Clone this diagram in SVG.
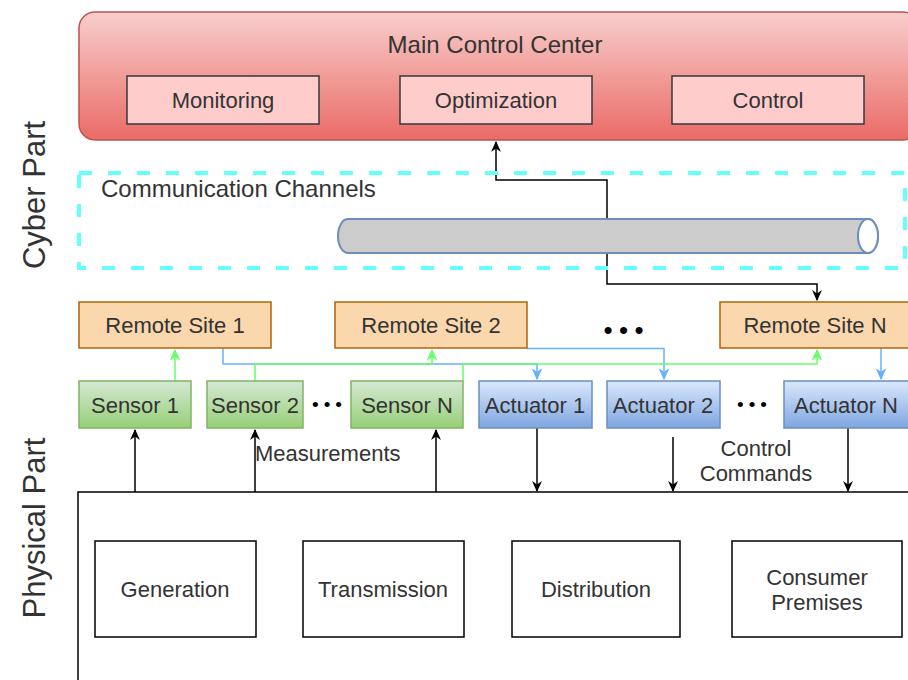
<svg xmlns="http://www.w3.org/2000/svg" width="908" height="680" viewBox="0 0 908 680">
<defs>
<linearGradient id="gRed" x1="0" y1="0" x2="0" y2="1"><stop offset="0" stop-color="#f8cecc"/><stop offset="1" stop-color="#ea6b66"/></linearGradient>
<linearGradient id="gGreen" x1="0" y1="0" x2="0" y2="1"><stop offset="0" stop-color="#d5e8d4"/><stop offset="1" stop-color="#97d077"/></linearGradient>
<linearGradient id="gBlue" x1="0" y1="0" x2="0" y2="1"><stop offset="0" stop-color="#dae8fc"/><stop offset="1" stop-color="#7ea6e0"/></linearGradient>
<marker id="aBlack" viewBox="0 0 10 10" refX="9" refY="5" markerWidth="11" markerHeight="11" markerUnits="userSpaceOnUse" orient="auto"><path d="M0,0.5 L10,5 L0,9.5 L3,5 Z" fill="#000"/></marker>
<marker id="aGreen" viewBox="0 0 10 10" refX="9" refY="5" markerWidth="12" markerHeight="12" markerUnits="userSpaceOnUse" orient="auto"><path d="M0,0.5 L10,5 L0,9.5 L3,5 Z" fill="#66ff66"/></marker>
<marker id="aBlue" viewBox="0 0 10 10" refX="9" refY="5" markerWidth="12" markerHeight="12" markerUnits="userSpaceOnUse" orient="auto"><path d="M0,0.5 L10,5 L0,9.5 L3,5 Z" fill="#66b2ff"/></marker>
</defs>
<style>
text{font-family:"Liberation Sans",Arial,sans-serif;fill:#333;font-size:22px}
.c{text-anchor:middle}
.big{font-size:24px}
.inner{fill:#ffcccc;stroke:#36393d;stroke-width:1.5}
.rs{fill:#fad7ac;stroke:#b46504;stroke-width:1.5}
.sen{fill:url(#gGreen);stroke:#82b366;stroke-width:1.5}
.act{fill:url(#gBlue);stroke:#6c8ebf;stroke-width:1.5}
.phys{fill:#fff;stroke:#000;stroke-width:1.5}
.blk{fill:none;stroke:#000;stroke-width:1.5}
.grn{fill:none;stroke:#66ff66;stroke-width:1.5}
.blu{fill:none;stroke:#66b2ff;stroke-width:1.5}
.side{font-size:31px;text-anchor:middle}
.dots{fill:#000}
.dl{font-size:26px;letter-spacing:6.4px}
.ds{font-size:19px;letter-spacing:5px}
</style>
<text class="side" transform="translate(45,195) rotate(-90)">Cyber Part</text>
<text class="side" transform="translate(45,528) rotate(-90)">Physical Part</text>
<g id="physical">
<rect x="78" y="492" width="840" height="200" fill="#fff" stroke="#000" stroke-width="1.5"/>
</g>
<g id="generation"><rect class="phys" x="95" y="541" width="161" height="96"/><text class="c" x="175" y="597">Generation</text></g>
<g id="transmission"><rect class="phys" x="303" y="541" width="161" height="96"/><text class="c" x="383" y="597">Transmission</text></g>
<g id="distribution"><rect class="phys" x="512" y="541" width="168" height="96"/><text class="c" x="596" y="597">Distribution</text></g>
<g id="consumer"><rect class="phys" x="732" y="541" width="170" height="96"/><text class="c" x="817" y="585">Consumer</text><text class="c" x="817" y="610">Premises</text></g>
<g id="connectors">
<path class="blk" d="M607,236 V180 H496 V142" marker-end="url(#aBlack)"/>
<path class="blk" d="M607,236 V284 H817 V300" marker-end="url(#aBlack)"/>
<path class="blu" d="M223,348 V364 H537 V379" marker-end="url(#aBlue)"/>
<path class="blu" d="M527,348.5 H664 V379" marker-end="url(#aBlue)"/>
<path class="blu" d="M881,348 V379" marker-end="url(#aBlue)"/>
<path class="grn" d="M175,381 V350" marker-end="url(#aGreen)"/>
<path class="grn" d="M255,381 V364 H432 V350" marker-end="url(#aGreen)"/>
<path class="grn" d="M463,381 V364 H817 V350" marker-end="url(#aGreen)"/>
<path class="blk" d="M135,492 V430" marker-end="url(#aBlack)"/>
<path class="blk" d="M255,492 V430" marker-end="url(#aBlack)"/>
<path class="blk" d="M436,492 V430" marker-end="url(#aBlack)"/>
<path class="blk" d="M537,428 V491" marker-end="url(#aBlack)"/>
<path class="blk" d="M673,437 V491" marker-end="url(#aBlack)"/>
<path class="blk" d="M848,428 V491" marker-end="url(#aBlack)"/>
<text x="255" y="461">Measurements</text>
<text class="c" x="756" y="456">Control</text>
<text class="c" x="756" y="481">Commands</text>
</g>
<g id="main-control-center">
<rect x="79" y="12" width="840" height="128" rx="16" fill="url(#gRed)" stroke="#b85450" stroke-width="1.5"/>
<text class="c big" x="495" y="53">Main Control Center</text>
</g>
<g id="monitoring"><rect class="inner" x="127" y="76" width="192" height="48"/><text class="c" x="223" y="108">Monitoring</text></g>
<g id="optimization"><rect class="inner" x="400" y="76" width="192" height="48"/><text class="c" x="496" y="108">Optimization</text></g>
<g id="control"><rect class="inner" x="672" y="76" width="192" height="48"/><text class="c" x="768" y="108">Control</text></g>
<g id="communication-channels">
<rect x="79" y="173" width="826" height="95" fill="none" stroke="#66ffff" stroke-width="4" stroke-dasharray="13 16"/>
<text class="big" x="101" y="197">Communication Channels</text>
</g>
<g id="pipe">
<path d="M348,219 H868 A10,17 0 0 1 868,253 H348 A10,17 0 0 1 348,219 Z" fill="#cccccc" stroke="#6c8ebf" stroke-width="2"/>
<ellipse cx="868" cy="236" rx="10" ry="17" fill="#fff" stroke="#6c8ebf" stroke-width="2"/>
</g>
<g id="remote-site-1"><rect class="rs" x="79" y="302" width="192" height="46"/><text class="c" x="175" y="333">Remote Site 1</text></g>
<g id="remote-site-2"><rect class="rs" x="335" y="302" width="192" height="46"/><text class="c" x="431" y="333">Remote Site 2</text></g>
<g id="remote-site-n"><rect class="rs" x="720" y="302" width="192" height="46"/><text class="c" x="815" y="333">Remote Site N</text></g>
<text class="dots dl" x="603.5" y="339">•••</text>
<g id="sensor-1"><rect class="sen" x="79" y="381" width="112" height="47"/><text class="c" x="135" y="413">Sensor 1</text></g>
<g id="sensor-2"><rect class="sen" x="207" y="381" width="96" height="47"/><text class="c" x="255" y="413">Sensor 2</text></g>
<text class="dots ds" x="312" y="410.5">•••</text>
<g id="sensor-n"><rect class="sen" x="351" y="381" width="112" height="47"/><text class="c" x="407" y="413">Sensor N</text></g>
<g id="actuator-1"><rect class="act" x="479" y="381" width="113" height="47"/><text class="c" x="535" y="413">Actuator 1</text></g>
<g id="actuator-2"><rect class="act" x="607" y="381" width="113" height="47"/><text class="c" x="663" y="413">Actuator 2</text></g>
<text class="dots ds" x="737" y="410.5">•••</text>
<g id="actuator-n"><rect class="act" x="784" y="381" width="130" height="47"/><text class="c" x="846" y="413">Actuator N</text></g>
</svg>
